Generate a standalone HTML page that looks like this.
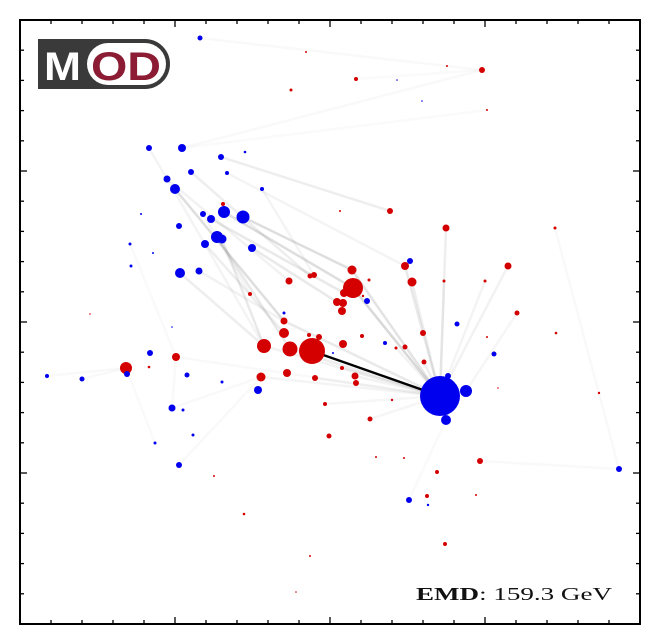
<!DOCTYPE html>
<html><head><meta charset="utf-8"><style>
html,body{margin:0;padding:0;background:#fff;}
svg{display:block;}
</style></head><body>
<svg id="chart" width="660" height="644" viewBox="0 0 660 644">
<g id="edges"></g>
<g id="points"></g>
<g id="axes"></g>
<g>
  <rect x="38" y="39" width="132" height="50" rx="25" fill="#3a3a3a"/>
  <rect x="38" y="39" width="60" height="50" fill="#3a3a3a"/>
  <rect x="87" y="43" width="79" height="42" rx="21" fill="#fff"/>
  <text x="44" y="80" textLength="37" lengthAdjust="spacingAndGlyphs" font-family="Liberation Sans, sans-serif" font-weight="bold" font-size="40" fill="#fff">M</text>
  <text x="91" y="80" textLength="70" lengthAdjust="spacingAndGlyphs" font-family="Liberation Sans, sans-serif" font-weight="bold" font-size="40" fill="#8b1c34">OD</text>
</g>
<text x="416" y="600" textLength="196" lengthAdjust="spacingAndGlyphs" font-family="Liberation Serif, serif" font-size="18" fill="#111"><tspan font-weight="bold">EMD</tspan>: 159.3 GeV</text>
</svg>
<script>
const redX=[286,271,203,269,290,294,230,70,264,427,462,336,467,320,370,426,535,385,332,349,392,424,465,488,333,324,317,323,322,343,497,264,244,270,292,289,299,156,106,129,241,267,295,305,309,194,224,290,276,403,342,536,323,467,376,385,404,322,335,336,478,579,372,350,356,384,460,417,407,456,425];
const redY=[572,534,420,343,348,349,330,310,303,558,554,545,514,413,413,396,396,358,354,344,342,343,343,358,336,331,322,321,313,328,311,291,278,275,273,289,287,267,256,257,247,251,246,220,188,148,110,68,32,291,288,291,280,287,276,277,262,256,248,241,236,231,224,205,167,166,163,152,128,129,80];
const redR=[1,1.5,2,3.5,2.5,3,2,0.8,3.5,1,3,2,1,1,3,3.5,1.5,4,4.5,1.5,4.5,1.5,1.5,3.5,10,4,4,4,4,1.2,2.5,5,7,7.5,13,2,3,4,6,1.3,4.5,4,3,2,2.5,1,1.3,1,0.8,3,2,1.3,4,1,1.5,2.5,2.5,2,3.5,3,0.8,1.2,1.2,2.5,1,1,3,2,2,1,2];
const blueX=[180,129,162,201,225,207,171,147,155,242,204,223,183,191,121,159,197,202,185,232,110,133,111,160,179,264,377,402,390,347,437,152,130,27,62,107,167,202,238,152,163,173,135,159,365,313,474,420,446,428,426,599,389,408];
const blueY=[586,476,476,467,472,451,452,445,435,435,412,407,410,405,410,398,387,385,380,376,380,371,358,351,353,311,544,523,363,323,300,297,271,248,245,250,249,242,234,216,214,189,181,159,281,271,270,228,233,248,204,155,124,119];
const blueR=[2.5,3,4,3,1.3,2,3,3.5,5,2,6,6.5,3,4,1,3,6,4.5,4,4,1.5,1,1.5,5,3.5,1.5,0.8,0.8,3,3,2.5,0.8,3,2,2.5,3,2.5,1.5,4,3.5,1.5,1.5,1.5,3,2,1,2.5,20,6,3,5,3,3,1.2];
const edgeFromX=[333,264,332,385,392,426,465,488,335,322,241,156,350,305,295,404,424,376,270,244,155,204,223,197,202,185,232,191,160,179,201,162,180,129,147,171,207,242,183,106,106,106,156,152,159,599,599,426,497,462,162,110];
const edgeFromY=[336,303,354,358,342,396,343,358,248,256,247,267,205,220,246,262,343,276,275,278,435,412,407,387,385,380,376,405,351,353,467,476,586,476,445,452,451,435,410,256,256,256,267,216,159,155,155,204,311,554,476,380];
const edgeToX=[420,420,420,420,420,420,420,420,420,420,420,420,420,420,420,420,420,420,420,420,264,333,332,270,244,264,317,324,244,264,370,462,462,244,269,290,385,294,230,27,62,135,152,241,241,460,535,389,446,336,467,156];
const edgeToY=[228,228,228,228,228,228,228,228,228,228,228,228,228,228,228,228,228,228,228,228,303,336,354,275,278,291,322,331,278,303,413,554,554,278,343,348,358,349,330,248,245,181,216,247,247,163,396,124,233,545,514,267];
const edgeAlpha=[0.35,0.2,0.25,0.2,0.15,0.15,0.1,0.12,0.12,0.1,0.1,0.06,0.08,0.08,0.1,0.15,0.1,0.12,0.15,0.12,0.3,0.3,0.3,0.2,0.2,0.15,0.2,0.2,0.15,0.12,0.15,0.05,0.06,0.1,0.12,0.15,0.1,0.1,0.1,0.05,0.05,0.04,0.06,0.05,0.05,0.05,0.05,0.04,0.08,0.04,0.04,0.04];
const mainEdge=[292,273,420,228];

const X0=20,X1=640,Y0=624,Y1=20;
const xS=v=>X0+v*(X1-X0)/620;
const yS=v=>Y0-v*(Y0-Y1)/604;
const NS='http://www.w3.org/2000/svg';
const gE=document.getElementById('edges'),gP=document.getElementById('points'),gA=document.getElementById('axes');

for(let i=0;i<edgeFromX.length;i++){
  const l=document.createElementNS(NS,'line');
  l.setAttribute('x1',xS(edgeFromX[i]));l.setAttribute('y1',yS(edgeFromY[i]));
  l.setAttribute('x2',xS(edgeToX[i]));l.setAttribute('y2',yS(edgeToY[i]));
  l.setAttribute('stroke','#6a6a6a');l.setAttribute('stroke-opacity',edgeAlpha[i]*0.75);
  l.setAttribute('stroke-width',2.5);l.setAttribute('stroke-linecap','round');
  
  
  gE.appendChild(l);
}
{
  const l=document.createElementNS(NS,'line');
  l.setAttribute('x1',xS(mainEdge[0]));l.setAttribute('y1',yS(mainEdge[1]));
  l.setAttribute('x2',xS(mainEdge[2]));l.setAttribute('y2',yS(mainEdge[3]));
  l.setAttribute('stroke','#000');l.setAttribute('stroke-width',2.4);
  
  
  gE.appendChild(l);
}
function dots(xs,ys,rs,col,name){
  for(let i=0;i<xs.length;i++){
    const c=document.createElementNS(NS,'circle');
    c.setAttribute('cx',xS(xs[i]));c.setAttribute('cy',yS(ys[i]));
    c.setAttribute('r',rs[i]);c.setAttribute('fill',col);
    
    
    gP.appendChild(c);
  }
}
dots(redX,redY,redR,'#d40000','red-particle');
dots(blueX,blueY,blueR,'#0000ee','blue-particle');

const fr=document.createElementNS(NS,'rect');
fr.setAttribute('x',X0);fr.setAttribute('y',Y1);fr.setAttribute('width',X1-X0);fr.setAttribute('height',Y0-Y1);
fr.setAttribute('fill','none');fr.setAttribute('stroke','#000');fr.setAttribute('stroke-width',2);


gA.appendChild(fr);
function tick(x1,y1,x2,y2,name){
  const t=document.createElementNS(NS,'line');
  t.setAttribute('x1',x1);t.setAttribute('y1',y1);t.setAttribute('x2',x2);t.setAttribute('y2',y2);
  t.setAttribute('stroke','#000');t.setAttribute('stroke-width',1.3);
  
  
  gA.appendChild(t);
}
for(let k=1;k<20;k++){
  const L=(k%5===0)?7:4;
  const x=X0+k*(X1-X0)/20, y=Y1+k*(Y0-Y1)/20;
  tick(x,Y0,x,Y0-L,'x-tick');tick(x,Y1,x,Y1+L,'x-tick-top');
  tick(X0,y,X0+L,y,'y-tick');tick(X1,y,X1-L,y,'y-tick-right');
}
</script>
</body></html>
